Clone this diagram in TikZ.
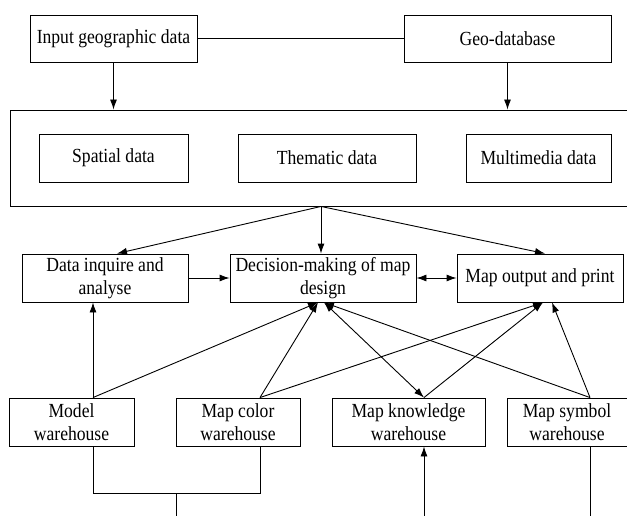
\documentclass[tikz,border=0pt]{standalone}
\usepackage{fontspec}
\setmainfont{Liberation Serif}[FakeStretch=0.88]
\usetikzlibrary{arrows.meta}

\begin{document}
\begin{tikzpicture}[x=1pt, y=-1pt, line width=0.9pt, >={Latex[length=10pt,width=7pt]},
        box/.style={draw, rectangle, inner sep=0pt, align=center, minimum height=48pt, font=\fontsize{20}{23}\selectfont},
        topbox/.style={box, minimum height=47pt}]
    \useasboundingbox (0,0) rectangle (627,516);
    % top row
    \node[topbox, minimum width=167pt] (input) at (113.5,38.5) {Input geographic data};
    \node[topbox, minimum width=207pt] (geodb) at (507.5,38.5) {Geo-database};
    % data box
    \node[draw, minimum width=622pt, minimum height=96pt] (big) at (321,158) {};
    \node[box, minimum width=149pt] (spatial) at (113.5,158) {Spatial data};
    \node[box, minimum width=178pt] (thematic) at (327,158) {Thematic data};
    \node[box, minimum width=145pt] (multi) at (538.5,158) {Multimedia data};
    % middle row
    \node[box, minimum width=166pt] (inquire) at (105,278) {Data inquire and\\analyse};
    \node[box, minimum width=186pt] (decision) at (323,278) {Decision-making of map\\design};
    \node[box, minimum width=166pt] (output) at (540,278) {Map output and print};
    % warehouses
    \node[box, minimum width=125pt] (model) at (71.5,422) {Model\\warehouse};
    \node[box, minimum width=124pt] (color) at (238,422) {Map color\\warehouse};
    \node[box, minimum width=153pt] (knowledge) at (408.5,422) {Map knowledge\\warehouse};
    \node[box, minimum width=120pt] (symbol) at (567,422) {Map symbol\\warehouse};

    \coordinate (mtop) at ([xshift=21.5pt]model.north);
    \coordinate (ctop) at ([xshift=22pt]color.north);
    \coordinate (ktop) at ([xshift=15.5pt]knowledge.north);
    \coordinate (stop) at ([xshift=23pt]symbol.north);
    \coordinate (ds1) at ([xshift=-5pt]decision.south);
    \coordinate (ds2) at ([xshift=1pt]decision.south);
    \coordinate (os1) at ([xshift=3pt]output.south);
    \coordinate (os2) at ([xshift=12pt]output.south);
    \coordinate (mbot) at ([xshift=21.5pt]model.south);
    \coordinate (cbot) at ([xshift=22pt]color.south);
    \coordinate (kbot) at ([xshift=15.5pt]knowledge.south);
    \coordinate (sbot) at ([xshift=23pt]symbol.south);
    \coordinate (jn) at (176,493);
    \coordinate (jend) at (176,516);
    \coordinate (kin) at (424,516);

    \draw (input) -- (geodb);
    \draw[->] (input.south) -- (input.south |- big.north);
    \draw[->] (geodb.south) -- (geodb.south |- big.north);
    \draw[->] (big.south) -- ([xshift=12pt]inquire.north);
    \draw[->] (big.south) -- (big.south |- decision.north);
    \draw[->] (big.south) -- ([xshift=5pt]output.north);
    \draw[->] (inquire) -- (decision);
    \draw[<->] (decision) -- (output);

    \draw[->] (mtop) -- (mtop |- inquire.south);
    \draw[->] (mtop) -- (ds1);
    \draw[->] (ctop) -- (ds1);
    \draw[->] (ctop) -- (os1);
    \draw[<->] (ktop) -- (ds2);
    \draw[->] (ktop) -- (os1);
    \draw[->] (stop) -- (ds2);
    \draw[->] (stop) -- (os2);

    \draw (mbot) -- (mbot |- jn) -| (cbot);
    \draw (jn) -- (jend);
    \draw[->] (kin) -- (kbot);
    \draw (sbot) -- (sbot |- jend);
\end{tikzpicture}
\end{document}
